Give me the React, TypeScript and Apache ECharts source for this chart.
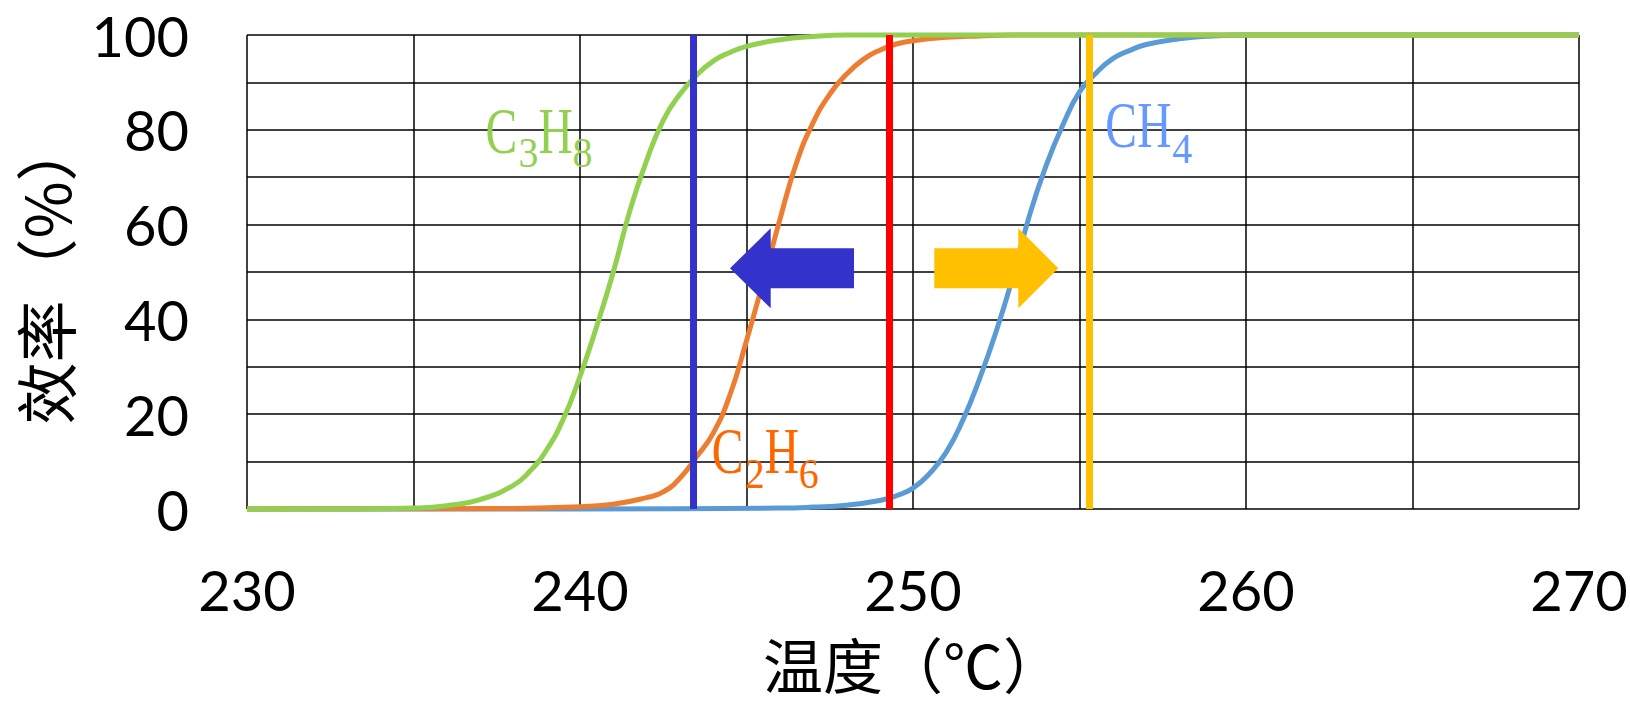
import React, { useEffect, useRef } from "react";
import * as echarts from "echarts";

// ---- data ----
const xTickLabels = [230, 240, 250, 260, 270];
const yTickLabels = [0, 20, 40, 60, 80, 100];

const c3h8Temps = [230, 233, 235, 236, 237, 238, 238.5, 239, 239.5, 240, 240.5, 241, 241.5, 242, 242.5, 243, 243.5, 244, 244.5, 245, 246, 247, 248, 250, 270];
const c3h8Values = [0, 0, 0.2, 0.7, 2.0, 5.0, 8.0, 12.5, 19, 28, 38.5, 50, 63, 73.5, 82, 87.5, 91.5, 94.5, 96.3, 97.6, 99.0, 99.7, 100, 100, 100];

const c2h6Temps = [230, 238, 240, 241, 242, 242.5, 243, 243.5, 244, 244.5, 245, 245.5, 246, 246.5, 247, 247.5, 248, 248.5, 249, 249.5, 250, 251, 252, 253, 270];
const c2h6Values = [0, 0.1, 0.5, 1.0, 2.4, 3.6, 6.5, 11, 16, 24, 35.5, 48, 61, 73, 81.5, 87.5, 91.7, 94.8, 96.8, 98.1, 98.8, 99.5, 99.8, 100, 100];

const ch4Temps = [230, 240, 246, 247, 248, 249, 249.5, 250, 250.5, 251, 251.5, 252, 252.5, 253, 253.5, 254, 254.5, 255, 255.5, 256, 256.5, 257, 258, 259, 260, 270];
const ch4Values = [0, 0, 0.2, 0.4, 0.8, 1.8, 2.8, 4.4, 7.5, 12, 18.8, 27.5, 37.5, 49, 62, 72.5, 81, 88, 92, 95, 96.7, 98, 99.2, 99.8, 100, 100];

const markerTemps = [243.4, 249.3, 255.3];
const markerColors = ["#3333CC", "#FF0000", "#FFC000"];

const xTitle = "温度（℃）";
const yTitle = "效率（%）";
const c3h8Label = ["C", "3", "H", "8"];
const c2h6Label = ["C", "2", "H", "6"];
const ch4Label = ["C", "H", "4"];
const ch4SubFlags = [false, false, true];
const c3h8SubFlags = [false, true, false, true];

const MAIN_FS = 66;
const SUB_FS = 42;
const SERIF = "'Liberation Serif', serif";

// builds a chemical formula from separate text parts (subscripts lowered)
function formulaGroup(
  parts: string[],
  subs: boolean[],
  offsets: number[],
  color: string,
  x0: number,
  baseMain: number,
  baseSub: number
) {
  return {
    type: "group",
    z: 100,
    children: parts.map((p, i) => {
      const isSub = subs[i];
      const fs = isSub ? SUB_FS : MAIN_FS;
      const base = isSub ? baseSub : baseMain;
      return {
        type: "text",
        z: 100,
        x: x0 + offsets[i] - 1.5,
        y: base - 0.3375 * fs,
        scaleX: isSub ? 0.95 : 0.72,
        style: {
          text: p,
          fontSize: fs,
          fontFamily: SERIF,
          fill: color,
          align: "left",
          verticalAlign: "middle",
        },
      };
    }),
  };
}

function zip(t: number[], v: number[]) {
  return t.map((x, i) => [x, v[i]]);
}

export default function App() {
  const ref = useRef<HTMLDivElement>(null);
  useEffect(() => {
    document.body.style.margin = "0";
    const chart = echarts.init(ref.current!, undefined, { renderer: "svg" });
    const axisFont = { fontFamily: "Lato, sans-serif", fontSize: 56, color: "#000" };
    const gridLine = { show: true, lineStyle: { color: "#000", width: 1.5, type: "solid" } };
    const curve = (name: string, data: number[][], color: string, extra: any = {}) => ({
      name,
      type: "line",
      data,
      smooth: 0.5,
      showSymbol: false,
      symbol: "none",
      clip: false,
      lineStyle: { color, width: 5 },
      itemStyle: { color },
      ...extra,
    });
    chart.setOption({
      animation: false,
      backgroundColor: "#ffffff",
      grid: { left: 247, right: 51, top: 35, bottom: 198, containLabel: false, outerBoundsMode: "none" },
      xAxis: {
        type: "value",
        min: 230,
        max: 270,
        interval: 5,
        axisLine: { show: false },
        axisTick: { show: false },
        axisLabel: {
          ...axisFont,
          margin: 52,
          formatter: (v: number) => (xTickLabels.includes(v) ? String(v) : ""),
        },
        splitLine: gridLine,
      },
      yAxis: {
        type: "value",
        min: 0,
        max: 100,
        interval: 10,
        axisLine: { show: false },
        axisTick: { show: false },
        axisLabel: {
          ...axisFont,
          margin: 58,
          formatter: (v: number) => (yTickLabels.includes(v) ? String(v) : ""),
        },
        splitLine: gridLine,
      },
      series: [
        curve("CH4", zip(ch4Temps, ch4Values), "#5B9BD5"),
        curve("C2H6", zip(c2h6Temps, c2h6Values), "#ED7D31"),
        curve("C3H8", zip(c3h8Temps, c3h8Values), "#92D050", {
          markLine: {
            silent: true,
            symbol: ["none", "none"],
            label: { show: false },
            z: 10,
            data: markerTemps.map((t, i) => ({
              xAxis: t,
              lineStyle: { color: markerColors[i], width: 7, type: "solid" },
            })),
          },
        }),
      ],
      graphic: [
        {
          type: "polygon",
          z: 100,
          shape: {
            points: [
              [730, 268.3], [770.7, 228.3], [770.7, 248.3], [854, 248.3],
              [854, 288.3], [770.7, 288.3], [770.7, 308.3],
            ],
          },
          style: { fill: "#3333CC" },
        },
        {
          type: "polygon",
          z: 100,
          shape: {
            points: [
              [1058.3, 268.3], [1018.3, 228.3], [1018.3, 248.3], [934.3, 248.3],
              [934.3, 288.3], [1018.3, 288.3], [1018.3, 308.3],
            ],
          },
          style: { fill: "#FFC000" },
        },
        formulaGroup(c3h8Label, c3h8SubFlags, [0, 33, 53, 87], "#92D050", 487, 152.7, 166.7),
        formulaGroup(c2h6Label, c3h8SubFlags, [0, 33, 53, 87], "#FF6600", 713.3, 473.3, 488.3),
        formulaGroup(ch4Label, ch4SubFlags, [0, 32, 67], "#6699FF", 1106.7, 146.7, 163.3),
        {
          type: "text",
          x: 913,
          y: 662,
          z: 100,
          style: {
            text: xTitle,
            fontSize: 60,
            fontFamily: "'Noto Sans CJK SC', sans-serif",
            fill: "#000",
            align: "center",
            verticalAlign: "middle",
          },
        },
        {
          type: "text",
          x: 44,
          y: 272,
          z: 100,
          rotation: Math.PI / 2,
          style: {
            text: yTitle,
            fontSize: 62,
            fontFamily: "'Noto Sans CJK SC', sans-serif",
            fill: "#000",
            align: "center",
            verticalAlign: "middle",
          },
        },
      ],
    });
    return () => chart.dispose();
  }, []);
  return (
    <div
      ref={ref}
      style={{ position: "absolute", left: 0, top: 0, width: 1630, height: 707 }}
    />
  );
}
